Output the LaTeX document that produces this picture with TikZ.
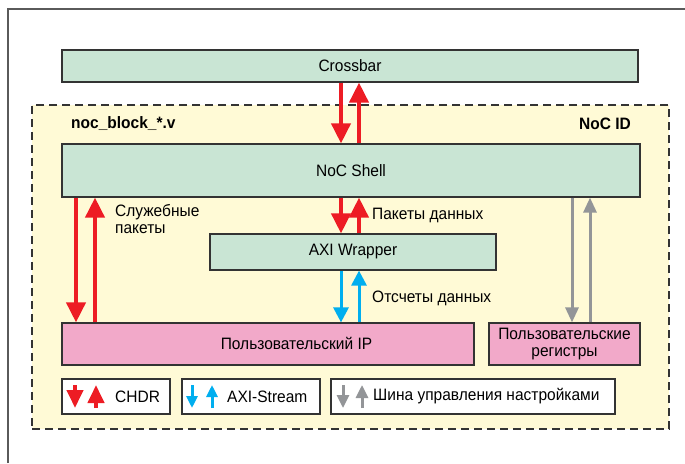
\documentclass[tikz,border=0pt]{standalone}
\usepackage{fontspec}
\setmainfont{Liberation Sans}[FakeStretch=0.94]
\usetikzlibrary{arrows.meta,calc}

\definecolor{boxgreen}{RGB}{201,229,212}
\definecolor{boxpink}{RGB}{242,169,201}
\definecolor{cream}{RGB}{255,250,214}
\definecolor{chdrred}{RGB}{237,28,36}
\definecolor{axiblue}{RGB}{0,174,239}
\definecolor{ctrlgray}{RGB}{147,149,152}
\definecolor{edge}{RGB}{51,51,51}
\definecolor{frame}{RGB}{90,90,90}

\begin{document}
\begin{tikzpicture}[x=1pt,y=-1pt,
  font=\fontsize{16.5}{18}\selectfont,
  block/.style={draw=edge, line width=1.2pt, inner sep=0pt, align=center},
  greenblock/.style={block, fill=boxgreen},
  pinkblock/.style={block, fill=boxpink},
  legendbox/.style={block, fill=white},
  container/.style={draw=edge, line width=2pt, dash pattern=on 8pt off 5pt, fill=cream, inner sep=0pt},
  lbl/.style={inner sep=0pt, align=left},
  redarrow/.style={draw=chdrred, line width=4pt, -{Triangle[width=19pt,length=20pt]}},
  bluearrow/.style={draw=axiblue, line width=3pt, -{Triangle[width=15pt,length=15pt]}},
  grayarrow/.style={draw=ctrlgray, line width=3pt, -{Triangle[width=13pt,length=15pt]}},
  redkey/.style={draw=chdrred, line width=4pt, -{Triangle[width=16pt,length=18pt]}},
  bluekey/.style={draw=axiblue, line width=3pt, -{Triangle[width=11pt,length=12pt]}},
  graykey/.style={draw=ctrlgray, line width=3pt, -{Triangle[width=12pt,length=13pt]}}
]
% page and outer frame
\fill[white] (0,0) rectangle (685,463);
\useasboundingbox (0,0) rectangle (685,463);
\draw[frame, line width=1.5pt] (8,463) -- (8,9) -- (685,9);

% top-level blocks
\node[greenblock, minimum width=576pt, minimum height=32pt] (crossbar) at (350,66) {Crossbar};
\node[container, minimum width=637pt, minimum height=324pt] (nocblock) at (350.5,267) {};
\node[lbl, anchor=west, font=\fontsize{16.5}{18}\selectfont\bfseries] (fname) at (71,124) {noc\_block\_*.v};
\node[lbl, anchor=east, font=\fontsize{16.5}{18}\selectfont\bfseries] (nocid) at (631,124) {NoC ID};

\node[greenblock, minimum width=578pt, minimum height=53pt] (shell) at (351,170.5) {NoC Shell};
\node[greenblock, minimum width=286pt, minimum height=36pt] (axi) at (353,252) {AXI Wrapper};
\node[pinkblock, minimum width=412pt, minimum height=42pt] (ip) at (268,344) {};
\node[inner sep=0pt] (iptext) at (296.5,343.5) {Пользовательский IP};
\node[pinkblock, minimum width=151pt, minimum height=42pt, font=\fontsize{16.5}{17}\selectfont] (regs) at (564.5,344) {Пользовательские\\регистры};

% arrow columns
\coordinate (xl1) at (76,0);
\coordinate (xl2) at (95,0);
\coordinate (xc1) at (341,0);
\coordinate (xc2) at (359,0);
\coordinate (xr1) at (572,0);
\coordinate (xr2) at (590,0);

% CHDR: crossbar <-> shell
\draw[redarrow] (crossbar.south -| xc1) -- (shell.north -| xc1);
\draw[redarrow] (shell.north -| xc2) -- (crossbar.south -| xc2);
% CHDR: shell <-> user IP (service packets)
\draw[redarrow] (shell.south -| xl1) -- (ip.north -| xl1);
\draw[redarrow] (ip.north -| xl2) -- (shell.south -| xl2);
% CHDR: shell <-> AXI wrapper
\draw[redarrow] (shell.south -| xc1) -- (axi.north -| xc1);
\draw[redarrow] (axi.north -| xc2) -- (shell.south -| xc2);
% AXI-Stream: wrapper <-> user IP
\draw[bluearrow] (axi.south -| xc1) -- (ip.north -| xc1);
\draw[bluearrow] (ip.north -| xc2) -- (axi.south -| xc2);
% control bus: shell <-> user registers
\draw[grayarrow] (shell.south -| xr1) -- (regs.north -| xr1);
\draw[grayarrow] (regs.north -| xr2) -- (shell.south -| xr2);

% connector labels
\node[lbl, anchor=north west, font=\fontsize{16.5}{17.5}\selectfont] (svc) at (115,204) {Служебные\\пакеты};
\node[lbl, anchor=west] (pkt) at (372,215.5) {Пакеты данных};
\node[lbl, anchor=west] (smp) at (372,298) {Отсчеты данных};

% legend
\node[legendbox, minimum width=108pt, minimum height=35pt] (leg1) at (116,396.5) {};
\node[legendbox, minimum width=138pt, minimum height=35pt] (leg2) at (251,396.5) {};
\node[legendbox, minimum width=284pt, minimum height=35pt] (leg3) at (473,396.5) {};

\draw[redkey] ([xshift=-41pt,yshift=11.5pt]leg1.center) -- ([xshift=-41pt,yshift=-11.5pt]leg1.center);
\draw[redkey] ([xshift=-20pt,yshift=-11.5pt]leg1.center) -- ([xshift=-20pt,yshift=11.5pt]leg1.center);
\node[lbl, anchor=west] (kchdr) at ([xshift=-1pt]leg1.center) {CHDR};

\draw[bluekey] ([xshift=-59pt,yshift=11.5pt]leg2.center) -- ([xshift=-59pt,yshift=-11.5pt]leg2.center);
\draw[bluekey] ([xshift=-39pt,yshift=-11.5pt]leg2.center) -- ([xshift=-39pt,yshift=11.5pt]leg2.center);
\node[lbl, anchor=west] (kaxi) at ([xshift=-24pt]leg2.center) {AXI-Stream};

\draw[graykey] ([xshift=-130pt,yshift=11.5pt]leg3.center) -- ([xshift=-130pt,yshift=-11.5pt]leg3.center);
\draw[graykey] ([xshift=-111pt,yshift=-11.5pt]leg3.center) -- ([xshift=-111pt,yshift=11.5pt]leg3.center);
\node[lbl, anchor=west] (kctl) at ([xshift=-100pt]leg3.center) {Шина управления настройками};
\end{tikzpicture}
\end{document}
